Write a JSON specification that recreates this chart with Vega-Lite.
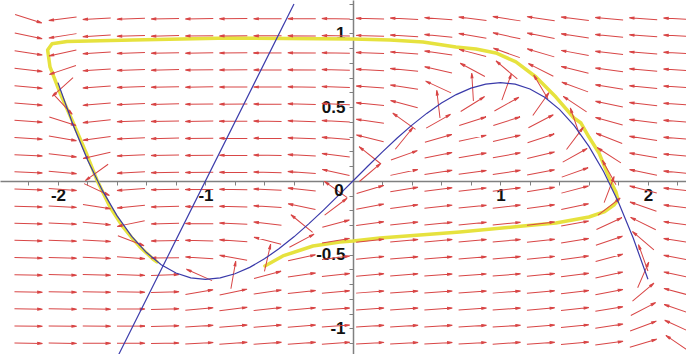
{
"$schema":"https://vega.github.io/schema/vega-lite/v6.json",
"width":686,"height":354,"padding":0,"autosize":{"type":"none"},"background":"white",
"config":{"view":{"stroke":null}},
"datasets":{
"traj":[{"i":0,"x":-0.597,"y":-0.576},{"i":1,"x":-0.475,"y":-0.508},{"i":2,"x":-0.271,"y":-0.441},{"i":3,"x":-0.088,"y":-0.414},{"i":4,"x":0,"y":-0.407},{"i":5,"x":0.183,"y":-0.386},{"i":6,"x":0.454,"y":-0.366},{"i":7,"x":0.725,"y":-0.346},{"i":8,"x":1.153,"y":-0.305},{"i":9,"x":1.376,"y":-0.285},{"i":10,"x":1.6,"y":-0.244},{"i":11,"x":1.702,"y":-0.21},{"i":12,"x":1.769,"y":-0.163},{"i":13,"x":1.797,"y":-0.129},{"i":14,"x":1.783,"y":-0.075},{"i":15,"x":1.749,"y":-0.007},{"i":16,"x":1.715,"y":0.075},{"i":17,"x":1.668,"y":0.19},{"i":18,"x":1.6,"y":0.298},{"i":19,"x":1.546,"y":0.393},{"i":20,"x":1.498,"y":0.427},{"i":21,"x":1.376,"y":0.569},{"i":22,"x":1.241,"y":0.705},{"i":23,"x":1.105,"y":0.807},{"i":24,"x":0.969,"y":0.868},{"i":25,"x":0.834,"y":0.895},{"i":26,"x":0.698,"y":0.908},{"i":27,"x":0.475,"y":0.942},{"i":28,"x":0.251,"y":0.956},{"i":29,"x":0,"y":0.963},{"i":30,"x":-0.834,"y":0.969},{"i":31,"x":-1.492,"y":0.955},{"i":32,"x":-1.939,"y":0.945},{"i":33,"x":-2.04,"y":0.93},{"i":34,"x":-2.07,"y":0.888},{"i":35,"x":-2.054,"y":0.773},{"i":36,"x":-2.02,"y":0.685},{"i":37,"x":-1.986,"y":0.597},{"i":38,"x":-1.905,"y":0.414},{"i":39,"x":-1.803,"y":0.176},{"i":40,"x":-1.736,"y":0.007},{"i":41,"x":-1.647,"y":-0.176},{"i":42,"x":-1.559,"y":-0.312},{"i":43,"x":-1.498,"y":-0.386},{"i":44,"x":-1.444,"y":-0.447},{"i":45,"x":-1.356,"y":-0.529},{"i":46,"x":-1.329,"y":-0.549}],
"cubic":[{"x":-2,"y":0.6667},{"x":-1.9,"y":0.3863},{"x":-1.8,"y":0.144},{"x":-1.7,"y":-0.0623},{"x":-1.6,"y":-0.2347},{"x":-1.5,"y":-0.375},{"x":-1.4,"y":-0.4853},{"x":-1.3,"y":-0.5677},{"x":-1.2,"y":-0.624},{"x":-1.1,"y":-0.6563},{"x":-1,"y":-0.6667},{"x":-0.9,"y":-0.657},{"x":-0.8,"y":-0.6293},{"x":-0.7,"y":-0.5857},{"x":-0.6,"y":-0.528},{"x":-0.5,"y":-0.4583},{"x":-0.4,"y":-0.3787},{"x":-0.3,"y":-0.291},{"x":-0.2,"y":-0.1973},{"x":-0.1,"y":-0.0997},{"x":0,"y":0},{"x":0.1,"y":0.0997},{"x":0.2,"y":0.1973},{"x":0.3,"y":0.291},{"x":0.4,"y":0.3787},{"x":0.5,"y":0.4583},{"x":0.6,"y":0.528},{"x":0.7,"y":0.5857},{"x":0.8,"y":0.6293},{"x":0.9,"y":0.657},{"x":1,"y":0.6667},{"x":1.1,"y":0.6563},{"x":1.2,"y":0.624},{"x":1.3,"y":0.5677},{"x":1.4,"y":0.4853},{"x":1.5,"y":0.375},{"x":1.6,"y":0.2347},{"x":1.7,"y":0.0623},{"x":1.8,"y":-0.144},{"x":1.9,"y":-0.3863},{"x":2,"y":-0.6667}],
"nline":[{"x":-1.6,"y":-1.2},{"x":-0.4,"y":1.2}],
"zero":[{"x":0,"y":0,"t":"0"}],
"arrows":[
{"x":-2.2,"y":1.1,"a":-17.5},{"x":-2.2,"y":0.984,"a":-11.8},{"x":-2.2,"y":0.868,"a":-8.7},{"x":-2.2,"y":0.753,"a":-6.8},{"x":-2.2,"y":0.637,"a":-5.5},{"x":-2.2,"y":0.521,"a":-4.5},{"x":-2.2,"y":0.405,"a":-3.8},{"x":-2.2,"y":0.289,"a":-3.3},{"x":-2.2,"y":0.174,"a":-2.8},{"x":-2.2,"y":0.058,"a":-2.5},{"x":-2.2,"y":-0.058,"a":-2.1},{"x":-2.2,"y":-0.174,"a":-1.9},{"x":-2.2,"y":-0.289,"a":-1.7},{"x":-2.2,"y":-0.405,"a":-1.5},{"x":-2.2,"y":-0.521,"a":-1.3},{"x":-2.2,"y":-0.637,"a":-1.1},{"x":-2.2,"y":-0.753,"a":-1.0},{"x":-2.2,"y":-0.868,"a":-0.9},{"x":-2.2,"y":-0.984,"a":-0.8},{"x":-2.2,"y":-1.1,"a":-0.7},
{"x":-1.968,"y":1.1,"a":-172.6},{"x":-1.968,"y":0.984,"a":-170.9},{"x":-1.968,"y":0.868,"a":-167.9},{"x":-1.968,"y":0.753,"a":-161.4},{"x":-1.968,"y":0.637,"a":-137.9},{"x":-1.968,"y":0.521,"a":-46.8},{"x":-1.968,"y":0.405,"a":-17.4},{"x":-1.968,"y":0.289,"a":-10},{"x":-1.968,"y":0.174,"a":-6.8},{"x":-1.968,"y":0.058,"a":-5},{"x":-1.968,"y":-0.058,"a":-3.8},{"x":-1.968,"y":-0.174,"a":-3},{"x":-1.968,"y":-0.289,"a":-2.5},{"x":-1.968,"y":-0.405,"a":-2},{"x":-1.968,"y":-0.521,"a":-1.7},{"x":-1.968,"y":-0.637,"a":-1.4},{"x":-1.968,"y":-0.753,"a":-1.1},{"x":-1.968,"y":-0.868,"a":-1},{"x":-1.968,"y":-0.984,"a":-0.8},{"x":-1.968,"y":-1.1,"a":-0.6},
{"x":-1.737,"y":1.1,"a":-177},{"x":-1.737,"y":0.984,"a":-176.7},{"x":-1.737,"y":0.868,"a":-176.5},{"x":-1.737,"y":0.753,"a":-176.1},{"x":-1.737,"y":0.637,"a":-175.7},{"x":-1.737,"y":0.521,"a":-175},{"x":-1.737,"y":0.405,"a":-173.9},{"x":-1.737,"y":0.289,"a":-171.9},{"x":-1.737,"y":0.174,"a":-167.3},{"x":-1.737,"y":0.058,"a":-144.3},{"x":-1.737,"y":-0.058,"a":-25.1},{"x":-1.737,"y":-0.174,"a":-9},{"x":-1.737,"y":-0.289,"a":-5.1},{"x":-1.737,"y":-0.405,"a":-3.3},{"x":-1.737,"y":-0.521,"a":-2.3},{"x":-1.737,"y":-0.637,"a":-1.7},{"x":-1.737,"y":-0.753,"a":-1.2},{"x":-1.737,"y":-0.868,"a":-0.9},{"x":-1.737,"y":-0.984,"a":-0.6},{"x":-1.737,"y":-1.1,"a":-0.4},
{"x":-1.505,"y":1.1,"a":-178.1},{"x":-1.505,"y":0.984,"a":-178.1},{"x":-1.505,"y":0.868,"a":-178},{"x":-1.505,"y":0.753,"a":-178},{"x":-1.505,"y":0.637,"a":-177.9},{"x":-1.505,"y":0.521,"a":-177.8},{"x":-1.505,"y":0.405,"a":-177.6},{"x":-1.505,"y":0.289,"a":-177.5},{"x":-1.505,"y":0.174,"a":-177.2},{"x":-1.505,"y":0.058,"a":-176.8},{"x":-1.505,"y":-0.058,"a":-176.1},{"x":-1.505,"y":-0.174,"a":-174.5},{"x":-1.505,"y":-0.289,"a":-168.6},{"x":-1.505,"y":-0.405,"a":-20.7},{"x":-1.505,"y":-0.521,"a":-4.1},{"x":-1.505,"y":-0.637,"a":-1.8},{"x":-1.505,"y":-0.753,"a":-0.9},{"x":-1.505,"y":-0.868,"a":-0.4},{"x":-1.505,"y":-0.984,"a":0},{"x":-1.505,"y":-1.1,"a":0.2},
{"x":-1.274,"y":1.1,"a":-178.7},{"x":-1.274,"y":0.984,"a":-178.7},{"x":-1.274,"y":0.868,"a":-178.7},{"x":-1.274,"y":0.753,"a":-178.7},{"x":-1.274,"y":0.637,"a":-178.8},{"x":-1.274,"y":0.521,"a":-178.8},{"x":-1.274,"y":0.405,"a":-178.8},{"x":-1.274,"y":0.289,"a":-178.8},{"x":-1.274,"y":0.174,"a":-178.8},{"x":-1.274,"y":0.058,"a":-178.8},{"x":-1.274,"y":-0.058,"a":-178.8},{"x":-1.274,"y":-0.174,"a":-178.8},{"x":-1.274,"y":-0.289,"a":-178.9},{"x":-1.274,"y":-0.405,"a":-179},{"x":-1.274,"y":-0.521,"a":-179.5},{"x":-1.274,"y":-0.637,"a":2.2},{"x":-1.274,"y":-0.753,"a":1.6},{"x":-1.274,"y":-0.868,"a":1.5},{"x":-1.274,"y":-0.984,"a":1.4},{"x":-1.274,"y":-1.1,"a":1.4},
{"x":-1.042,"y":1.1,"a":-179.1},{"x":-1.042,"y":0.984,"a":-179.2},{"x":-1.042,"y":0.868,"a":-179.2},{"x":-1.042,"y":0.753,"a":-179.2},{"x":-1.042,"y":0.637,"a":-179.3},{"x":-1.042,"y":0.521,"a":-179.3},{"x":-1.042,"y":0.405,"a":-179.4},{"x":-1.042,"y":0.289,"a":-179.5},{"x":-1.042,"y":0.174,"a":-179.6},{"x":-1.042,"y":0.058,"a":-179.7},{"x":-1.042,"y":-0.058,"a":-180},{"x":-1.042,"y":-0.174,"a":179.8},{"x":-1.042,"y":-0.289,"a":179.3},{"x":-1.042,"y":-0.405,"a":178.4},{"x":-1.042,"y":-0.521,"a":176.1},{"x":-1.042,"y":-0.637,"a":156.1},{"x":-1.042,"y":-0.753,"a":9.7},{"x":-1.042,"y":-0.868,"a":5},{"x":-1.042,"y":-0.984,"a":3.6},{"x":-1.042,"y":-1.1,"a":3},
{"x":-0.811,"y":1.1,"a":-179.5},{"x":-0.811,"y":0.984,"a":-179.5},{"x":-0.811,"y":0.868,"a":-179.6},{"x":-0.811,"y":0.753,"a":-179.7},{"x":-0.811,"y":0.637,"a":-179.7},{"x":-0.811,"y":0.521,"a":-179.8},{"x":-0.811,"y":0.405,"a":-180},{"x":-0.811,"y":0.289,"a":179.9},{"x":-0.811,"y":0.174,"a":179.7},{"x":-0.811,"y":0.058,"a":179.4},{"x":-0.811,"y":-0.058,"a":179},{"x":-0.811,"y":-0.174,"a":178.5},{"x":-0.811,"y":-0.289,"a":177.5},{"x":-0.811,"y":-0.405,"a":175.6},{"x":-0.811,"y":-0.521,"a":169.8},{"x":-0.811,"y":-0.637,"a":80},{"x":-0.811,"y":-0.753,"a":12},{"x":-0.811,"y":-0.868,"a":6.8},{"x":-0.811,"y":-0.984,"a":5},{"x":-0.811,"y":-1.1,"a":4.1},
{"x":-0.579,"y":1.1,"a":-179.8},{"x":-0.579,"y":0.984,"a":-179.9},{"x":-0.579,"y":0.868,"a":-180},{"x":-0.579,"y":0.753,"a":179.9},{"x":-0.579,"y":0.637,"a":179.8},{"x":-0.579,"y":0.521,"a":179.6},{"x":-0.579,"y":0.405,"a":179.4},{"x":-0.579,"y":0.289,"a":179.1},{"x":-0.579,"y":0.174,"a":178.8},{"x":-0.579,"y":0.058,"a":178.2},{"x":-0.579,"y":-0.058,"a":177.5},{"x":-0.579,"y":-0.174,"a":176.1},{"x":-0.579,"y":-0.289,"a":173.6},{"x":-0.579,"y":-0.405,"a":165.5},{"x":-0.579,"y":-0.521,"a":77.2},{"x":-0.579,"y":-0.637,"a":15.1},{"x":-0.579,"y":-0.753,"a":8.5},{"x":-0.579,"y":-0.868,"a":6.2},{"x":-0.579,"y":-0.984,"a":5},{"x":-0.579,"y":-1.1,"a":4.3},
{"x":-0.347,"y":1.1,"a":179.8},{"x":-0.347,"y":0.984,"a":179.7},{"x":-0.347,"y":0.868,"a":179.5},{"x":-0.347,"y":0.753,"a":179.3},{"x":-0.347,"y":0.637,"a":179.1},{"x":-0.347,"y":0.521,"a":178.8},{"x":-0.347,"y":0.405,"a":178.4},{"x":-0.347,"y":0.289,"a":177.9},{"x":-0.347,"y":0.174,"a":177.1},{"x":-0.347,"y":0.058,"a":175.9},{"x":-0.347,"y":-0.058,"a":173.6},{"x":-0.347,"y":-0.174,"a":168.2},{"x":-0.347,"y":-0.289,"a":140.8},{"x":-0.347,"y":-0.405,"a":28.1},{"x":-0.347,"y":-0.521,"a":12.3},{"x":-0.347,"y":-0.637,"a":8.2},{"x":-0.347,"y":-0.753,"a":6.3},{"x":-0.347,"y":-0.868,"a":5.2},{"x":-0.347,"y":-0.984,"a":4.5},{"x":-0.347,"y":-1.1,"a":4},
{"x":-0.116,"y":1.1,"a":179.3},{"x":-0.116,"y":0.984,"a":179.1},{"x":-0.116,"y":0.868,"a":178.8},{"x":-0.116,"y":0.753,"a":178.5},{"x":-0.116,"y":0.637,"a":178.1},{"x":-0.116,"y":0.521,"a":177.5},{"x":-0.116,"y":0.405,"a":176.6},{"x":-0.116,"y":0.289,"a":175.3},{"x":-0.116,"y":0.174,"a":172.9},{"x":-0.116,"y":0.058,"a":167.5},{"x":-0.116,"y":-0.058,"a":144.4},{"x":-0.116,"y":-0.174,"a":36.8},{"x":-0.116,"y":-0.289,"a":14.9},{"x":-0.116,"y":-0.405,"a":9.6},{"x":-0.116,"y":-0.521,"a":7.2},{"x":-0.116,"y":-0.637,"a":5.9},{"x":-0.116,"y":-0.753,"a":5.1},{"x":-0.116,"y":-0.868,"a":4.5},{"x":-0.116,"y":-0.984,"a":4.1},{"x":-0.116,"y":-1.1,"a":3.7},
{"x":0.116,"y":1.1,"a":178.5},{"x":0.116,"y":0.984,"a":178.1},{"x":0.116,"y":0.868,"a":177.7},{"x":0.116,"y":0.753,"a":177},{"x":0.116,"y":0.637,"a":176.1},{"x":0.116,"y":0.521,"a":174.6},{"x":0.116,"y":0.405,"a":171.9},{"x":0.116,"y":0.289,"a":165.9},{"x":0.116,"y":0.174,"a":141.6},{"x":0.116,"y":0.058,"a":40.4},{"x":0.116,"y":-0.058,"a":16.5},{"x":0.116,"y":-0.174,"a":10.6},{"x":0.116,"y":-0.289,"a":8},{"x":0.116,"y":-0.405,"a":6.5},{"x":0.116,"y":-0.521,"a":5.6},{"x":0.116,"y":-0.637,"a":4.9},{"x":0.116,"y":-0.753,"a":4.4},{"x":0.116,"y":-0.868,"a":4.1},{"x":0.116,"y":-0.984,"a":3.8},{"x":0.116,"y":-1.1,"a":3.5},
{"x":0.347,"y":1.1,"a":177.3},{"x":0.347,"y":0.984,"a":176.6},{"x":0.347,"y":0.868,"a":175.6},{"x":0.347,"y":0.753,"a":174.1},{"x":0.347,"y":0.637,"a":171.3},{"x":0.347,"y":0.521,"a":165.4},{"x":0.347,"y":0.405,"a":144.4},{"x":0.347,"y":0.289,"a":50.9},{"x":0.347,"y":0.174,"a":19.6},{"x":0.347,"y":0.058,"a":12.2},{"x":0.347,"y":-0.058,"a":9},{"x":0.347,"y":-0.174,"a":7.3},{"x":0.347,"y":-0.289,"a":6.2},{"x":0.347,"y":-0.405,"a":5.4},{"x":0.347,"y":-0.521,"a":4.8},{"x":0.347,"y":-0.637,"a":4.4},{"x":0.347,"y":-0.753,"a":4.1},{"x":0.347,"y":-0.868,"a":3.8},{"x":0.347,"y":-0.984,"a":3.6},{"x":0.347,"y":-1.1,"a":3.4},
{"x":0.579,"y":1.1,"a":175.5},{"x":0.579,"y":0.984,"a":174.1},{"x":0.579,"y":0.868,"a":171.7},{"x":0.579,"y":0.753,"a":167.2},{"x":0.579,"y":0.637,"a":155.2},{"x":0.579,"y":0.521,"a":96.7},{"x":0.579,"y":0.405,"a":29.6},{"x":0.579,"y":0.289,"a":16},{"x":0.579,"y":0.174,"a":11.2},{"x":0.579,"y":0.058,"a":8.7},{"x":0.579,"y":-0.058,"a":7.2},{"x":0.579,"y":-0.174,"a":6.2},{"x":0.579,"y":-0.289,"a":5.5},{"x":0.579,"y":-0.405,"a":5},{"x":0.579,"y":-0.521,"a":4.6},{"x":0.579,"y":-0.637,"a":4.2},{"x":0.579,"y":-0.753,"a":4},{"x":0.579,"y":-0.868,"a":3.8},{"x":0.579,"y":-0.984,"a":3.6},{"x":0.579,"y":-1.1,"a":3.4},
{"x":0.811,"y":1.1,"a":173.1},{"x":0.811,"y":0.984,"a":170.4},{"x":0.811,"y":0.868,"a":165.2},{"x":0.811,"y":0.753,"a":151.7},{"x":0.811,"y":0.637,"a":93.4},{"x":0.811,"y":0.521,"a":31.9},{"x":0.811,"y":0.405,"a":17.6},{"x":0.811,"y":0.289,"a":12.3},{"x":0.811,"y":0.174,"a":9.6},{"x":0.811,"y":0.058,"a":7.9},{"x":0.811,"y":-0.058,"a":6.8},{"x":0.811,"y":-0.174,"a":6},{"x":0.811,"y":-0.289,"a":5.5},{"x":0.811,"y":-0.405,"a":5},{"x":0.811,"y":-0.521,"a":4.6},{"x":0.811,"y":-0.637,"a":4.3},{"x":0.811,"y":-0.753,"a":4.1},{"x":0.811,"y":-0.868,"a":3.9},{"x":0.811,"y":-0.984,"a":3.7},{"x":0.811,"y":-1.1,"a":3.5},
{"x":1.042,"y":1.1,"a":171.2},{"x":1.042,"y":0.984,"a":167.7},{"x":1.042,"y":0.868,"a":160.4},{"x":1.042,"y":0.753,"a":139.6},{"x":1.042,"y":0.637,"a":70.2},{"x":1.042,"y":0.521,"a":29.1},{"x":1.042,"y":0.405,"a":17.7},{"x":1.042,"y":0.289,"a":12.8},{"x":1.042,"y":0.174,"a":10.2},{"x":1.042,"y":0.058,"a":8.5},{"x":1.042,"y":-0.058,"a":7.3},{"x":1.042,"y":-0.174,"a":6.5},{"x":1.042,"y":-0.289,"a":5.9},{"x":1.042,"y":-0.405,"a":5.4},{"x":1.042,"y":-0.521,"a":5},{"x":1.042,"y":-0.637,"a":4.7},{"x":1.042,"y":-0.753,"a":4.4},{"x":1.042,"y":-0.868,"a":4.2},{"x":1.042,"y":-0.984,"a":4},{"x":1.042,"y":-1.1,"a":3.8},
{"x":1.274,"y":1.1,"a":171.4},{"x":1.274,"y":0.984,"a":168.6},{"x":1.274,"y":0.868,"a":163.7},{"x":1.274,"y":0.753,"a":153.1},{"x":1.274,"y":0.637,"a":120.6},{"x":1.274,"y":0.521,"a":54.8},{"x":1.274,"y":0.405,"a":27.4},{"x":1.274,"y":0.289,"a":17.9},{"x":1.274,"y":0.174,"a":13.5},{"x":1.274,"y":0.058,"a":10.9},{"x":1.274,"y":-0.058,"a":9.2},{"x":1.274,"y":-0.174,"a":8},{"x":1.274,"y":-0.289,"a":7.1},{"x":1.274,"y":-0.405,"a":6.4},{"x":1.274,"y":-0.521,"a":5.9},{"x":1.274,"y":-0.637,"a":5.5},{"x":1.274,"y":-0.753,"a":5.1},{"x":1.274,"y":-0.868,"a":4.8},{"x":1.274,"y":-0.984,"a":4.5},{"x":1.274,"y":-1.1,"a":4.3},
{"x":1.505,"y":1.1,"a":173.1},{"x":1.505,"y":0.984,"a":171.6},{"x":1.505,"y":0.868,"a":169.4},{"x":1.505,"y":0.753,"a":166},{"x":1.505,"y":0.637,"a":159.8},{"x":1.505,"y":0.521,"a":146.4},{"x":1.505,"y":0.405,"a":109.2},{"x":1.505,"y":0.289,"a":53},{"x":1.505,"y":0.174,"a":29.2},{"x":1.505,"y":0.058,"a":19.7},{"x":1.505,"y":-0.058,"a":14.9},{"x":1.505,"y":-0.174,"a":12.1},{"x":1.505,"y":-0.289,"a":10.3},{"x":1.505,"y":-0.405,"a":8.9},{"x":1.505,"y":-0.521,"a":8},{"x":1.505,"y":-0.637,"a":7.2},{"x":1.505,"y":-0.753,"a":6.6},{"x":1.505,"y":-0.868,"a":6.1},{"x":1.505,"y":-0.984,"a":5.7},{"x":1.505,"y":-1.1,"a":5.3},
{"x":1.737,"y":1.1,"a":174.9},{"x":1.737,"y":0.984,"a":174.2},{"x":1.737,"y":0.868,"a":173.3},{"x":1.737,"y":0.753,"a":172.1},{"x":1.737,"y":0.637,"a":170.5},{"x":1.737,"y":0.521,"a":168.1},{"x":1.737,"y":0.405,"a":164.6},{"x":1.737,"y":0.289,"a":158.7},{"x":1.737,"y":0.174,"a":147.1},{"x":1.737,"y":0.058,"a":119.2},{"x":1.737,"y":-0.058,"a":69},{"x":1.737,"y":-0.174,"a":37.8},{"x":1.737,"y":-0.289,"a":24.9},{"x":1.737,"y":-0.405,"a":18.5},{"x":1.737,"y":-0.521,"a":14.8},{"x":1.737,"y":-0.637,"a":12.4},{"x":1.737,"y":-0.753,"a":10.7},{"x":1.737,"y":-0.868,"a":9.4},{"x":1.737,"y":-0.984,"a":8.5},{"x":1.737,"y":-1.1,"a":7.7},
{"x":1.968,"y":1.1,"a":176.3},{"x":1.968,"y":0.984,"a":175.9},{"x":1.968,"y":0.868,"a":175.5},{"x":1.968,"y":0.753,"a":175},{"x":1.968,"y":0.637,"a":174.4},{"x":1.968,"y":0.521,"a":173.6},{"x":1.968,"y":0.405,"a":172.8},{"x":1.968,"y":0.289,"a":171.6},{"x":1.968,"y":0.174,"a":170.2},{"x":1.968,"y":0.058,"a":168.2},{"x":1.968,"y":-0.058,"a":165.3},{"x":1.968,"y":-0.174,"a":161},{"x":1.968,"y":-0.289,"a":153.7},{"x":1.968,"y":-0.405,"a":139.7},{"x":1.968,"y":-0.521,"a":109.7},{"x":1.968,"y":-0.637,"a":66.6},{"x":1.968,"y":-0.753,"a":39.9},{"x":1.968,"y":-0.868,"a":27.4},{"x":1.968,"y":-0.984,"a":20.7},{"x":1.968,"y":-1.1,"a":16.7},
{"x":2.2,"y":1.1,"a":177.2},{"x":2.2,"y":0.984,"a":177},{"x":2.2,"y":0.868,"a":176.8},{"x":2.2,"y":0.753,"a":176.5},{"x":2.2,"y":0.637,"a":176.3},{"x":2.2,"y":0.521,"a":176},{"x":2.2,"y":0.405,"a":175.6},{"x":2.2,"y":0.289,"a":175.2},{"x":2.2,"y":0.174,"a":174.7},{"x":2.2,"y":0.058,"a":174.2},{"x":2.2,"y":-0.058,"a":173.6},{"x":2.2,"y":-0.174,"a":172.8},{"x":2.2,"y":-0.289,"a":171.9},{"x":2.2,"y":-0.405,"a":170.8},{"x":2.2,"y":-0.521,"a":169.4},{"x":2.2,"y":-0.637,"a":167.5},{"x":2.2,"y":-0.753,"a":164.9},{"x":2.2,"y":-0.868,"a":161.2},{"x":2.2,"y":-0.984,"a":155.5},{"x":2.2,"y":-1.1,"a":145.9}
]},
"encoding":{
"x":{"field":"x","type":"quantitative","scale":{"domain":[-2.393,2.258],"nice":false,"zero":false},
"axis":{"orient":"bottom","offset":-173,"title":null,"grid":false,"values":[-2.2,-2,-1.8,-1.6,-1.4,-1.2,-1,-0.8,-0.6,-0.4,-0.2,0,0.2,0.4,0.6,0.8,1,1.2,1.4,1.6,1.8,2,2.2],
"labelExpr":"datum.value == -2 ? '-2' : datum.value == -1 ? '-1' : datum.value == 1 ? '1' : datum.value == 2 ? '2' : ''",
"tickSize":4,"tickColor":"#808080","domainColor":"#808080","domainWidth":1.5,"labelFont":"Liberation Sans","labelFontSize":17,"labelFontWeight":"bold","labelColor":"#111111","labelPadding":2,"labelOverlap":false,"labelFlush":false}},
"y":{"field":"y","type":"quantitative","scale":{"domain":[-1.173,1.227],"nice":false,"zero":false},
"axis":{"orient":"left","offset":-353,"title":null,"grid":false,"values":[-1.1,-1,-0.9,-0.8,-0.7,-0.6,-0.5,-0.4,-0.3,-0.2,-0.1,0,0.1,0.2,0.3,0.4,0.5,0.6,0.7,0.8,0.9,1,1.1,1.2],
"labelExpr":"datum.value == -1 ? '-1' : datum.value == -0.5 ? '-0.5' : datum.value == 0.5 ? '0.5' : datum.value == 1 ? '1' : ''",
"tickSize":4,"tickColor":"#808080","domainColor":"#808080","domainWidth":1.5,"labelFont":"Liberation Sans","labelFontSize":17,"labelFontWeight":"bold","labelColor":"#111111","labelPadding":4,"labelOverlap":false,"labelFlush":false}}
},
"layer":[
{"data":{"name":"traj"},"mark":{"type":"line","color":"#e6e23e","strokeWidth":3.5,"strokeCap":"round","strokeJoin":"round","clip":true},"encoding":{"order":{"field":"i","type":"quantitative"}}},
{"data":{"name":"arrows"},"mark":{"type":"point","shape":"M-1,0L1,0M1,0L0.66,-0.07L0.66,0.07Z","filled":true,"size":784,"fill":"#d42020","stroke":"#d84646","strokeWidth":1,"opacity":1,"clip":true},
"encoding":{"angle":{"field":"a","type":"quantitative","scale":{"domain":[-180,180],"range":[180,-180]}}}},
{"data":{"name":"cubic"},"mark":{"type":"line","color":"#3a3aaa","strokeWidth":1.2,"clip":true},"encoding":{}},
{"data":{"name":"nline"},"mark":{"type":"line","color":"#3a3aaa","strokeWidth":1.2,"clip":true},"encoding":{}},
{"data":{"name":"zero"},"mark":{"type":"text","font":"Liberation Sans","fontSize":17,"fontWeight":"bold","color":"#111111","align":"center","baseline":"middle","dx":-14,"dy":10},"encoding":{"text":{"field":"t"}}}
]
}
